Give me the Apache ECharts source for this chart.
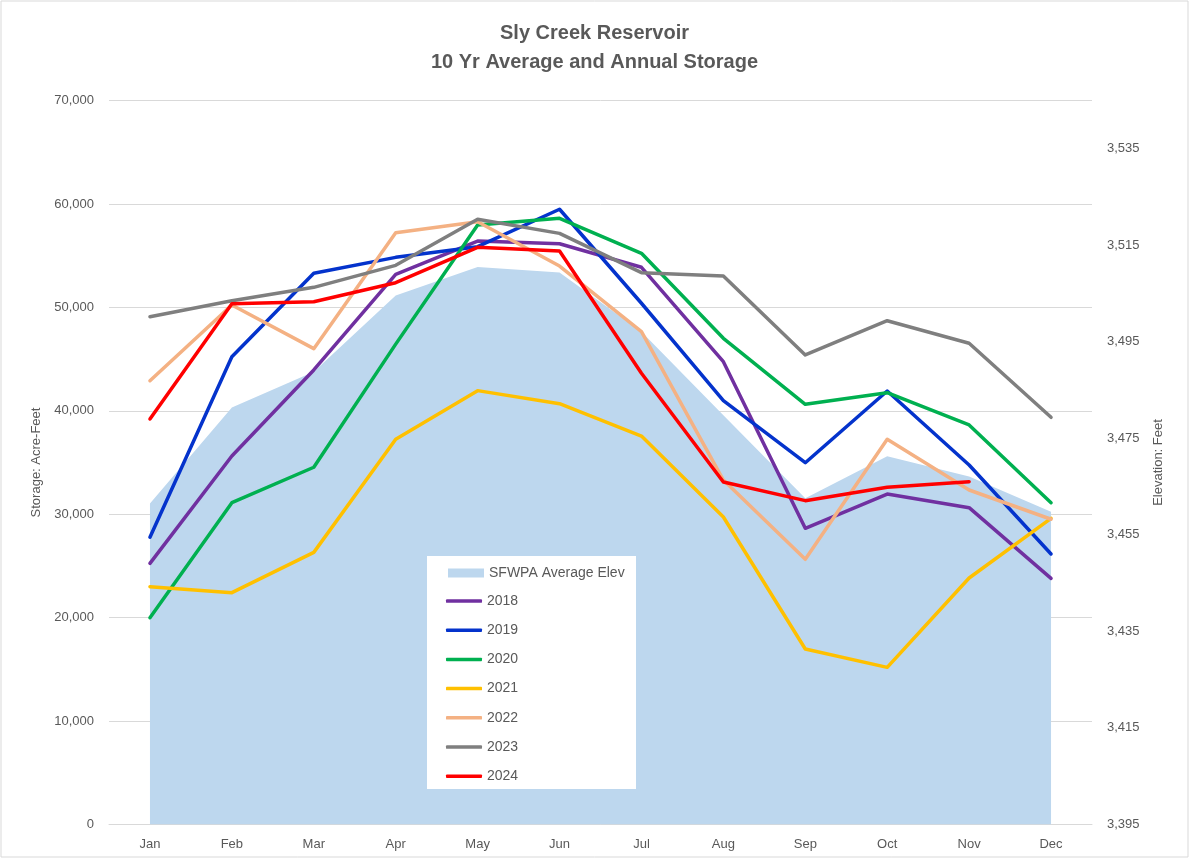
<!DOCTYPE html>
<html><head><meta charset="utf-8">
<script src="https://cdn.jsdelivr.net/npm/echarts@6/dist/echarts.min.js"></script>
<style>html,body{margin:0;padding:0;background:#fff}#c{width:1189px;height:858px}</style>
</head><body><div id="c"></div>
<script>
const months = ['Jan','Feb','Mar','Apr','May','Jun','Jul','Aug','Sep','Oct','Nov','Dec'];
const avgElev = [3461.5,3481.4,3488.8,3504.6,3510.5,3509.4,3497.1,3479.8,3462.6,3471.3,3467.1,3459.8];
const s2018 = [25250,35630,43950,53200,56420,56160,53880,44750,28640,31950,30630,23800];
const s2019 = [27770,45230,53300,54840,55870,59490,50400,40980,34980,41910,34760,26150];
const s2020 = [19990,31110,34540,46450,57970,58620,55230,47010,40630,41750,38630,31110];
const s2021 = [22990,22410,26310,37240,41950,40690,37560,29730,16960,15190,23830,29600];
const s2022 = [42910,50230,46010,57220,58290,54000,47650,33300,25640,37240,32340,29510];
const s2023 = [49100,50650,51940,54070,58520,57160,53360,53040,45400,48710,46530,39370];
const s2024 = [39210,50360,50550,52390,55810,55450,43630,33110,31310,32600,33140,null];
const leftTicks = {min:0, max:70000, interval:10000};
const rightTicks = {min:3395, max:3545, interval:20};

const yearSeries = [
  ['2018', s2018, '#7030A0'],
  ['2019', s2019, '#0433CC'],
  ['2020', s2020, '#00B050'],
  ['2021', s2021, '#FFC000'],
  ['2022', s2022, '#F4B183'],
  ['2023', s2023, '#7F7F7F'],
  ['2024', s2024, '#FF0000']
];
const fmt = v => v.toLocaleString('en-US');
const FONT = 'Liberation Sans';
const chart = echarts.init(document.getElementById('c'));
const series = [{
  name:'SFWPA Average Elev', type:'line', yAxisIndex:1, data:avgElev,
  symbol:'none', lineStyle:{width:0}, itemStyle:{color:'#BDD7EE'},
  areaStyle:{color:'#BDD7EE', origin:'start', opacity:1}, z:1
}];
yearSeries.forEach(([n,d,c])=>series.push({
  name:n, type:'line', data:d, symbol:'none', connectNulls:false,
  lineStyle:{width:3.5, color:c, cap:'round', join:'round'}, itemStyle:{color:c}, z:2
}));
chart.setOption({
  animation:false,
  backgroundColor:'#fff',
  title:{text:'Sly Creek Reservoir\n10 Yr Average and Annual Storage', left:'center', top:14,
    textStyle:{fontFamily:FONT, fontSize:20, fontWeight:'bold', color:'#595959', lineHeight:29}},
  grid:{left:109, right:97, top:100.6, bottom:33.6},
  graphic:[
    {type:'rect', shape:{x:1,y:1,width:1187,height:856}, style:{fill:'none', stroke:'#D9D9D9', lineWidth:1}, silent:true, z:0},
    {type:'rect', shape:{x:427,y:556,width:209,height:233}, style:{fill:'#fff'}, z:3}
  ],
  xAxis:{type:'category', data:months, boundaryGap:true,
    axisLine:{show:true, lineStyle:{color:'#D9D9D9'}}, axisTick:{show:false},
    axisLabel:{color:'#595959', fontFamily:FONT, fontSize:13, margin:14}},
  yAxis:[{type:'value', min:leftTicks.min, max:leftTicks.max, interval:leftTicks.interval,
    name:'Storage: Acre-Feet', nameLocation:'middle', nameGap:65, nameRotate:90,
    nameTextStyle:{color:'#595959', fontFamily:FONT, fontSize:13},
    axisLine:{show:false}, axisTick:{show:false},
    axisLabel:{color:'#595959', fontFamily:FONT, fontSize:13, margin:15, formatter:fmt},
    splitLine:{lineStyle:{color:'#D9D9D9', width:1}}},
   {type:'value', min:rightTicks.min, max:rightTicks.max, interval:rightTicks.interval, position:'right',
    name:'Elevation: Feet', nameLocation:'middle', nameGap:60, nameRotate:90,
    nameTextStyle:{color:'#595959', fontFamily:FONT, fontSize:13},
    axisLine:{show:false}, axisTick:{show:false}, splitLine:{show:false},
    axisLabel:{color:'#595959', fontFamily:FONT, fontSize:13, margin:15, formatter:fmt, showMaxLabel:false}}],
  legend:[
    {orient:'vertical', left:443, top:560, itemWidth:36, itemHeight:9, icon:'rect',
     data:['SFWPA Average Elev'], textStyle:{color:'#595959', fontFamily:FONT, fontSize:14, lineHeight:16}, z:4},
    {orient:'vertical', left:441, top:588, itemWidth:36, itemHeight:3.5, itemGap:13.2,
     data:yearSeries.map(s=>({name:s[0], icon:'roundRect'})),
     textStyle:{color:'#595959', fontFamily:FONT, fontSize:14, lineHeight:16}, z:4}
  ],
  series
});
</script></body></html>
